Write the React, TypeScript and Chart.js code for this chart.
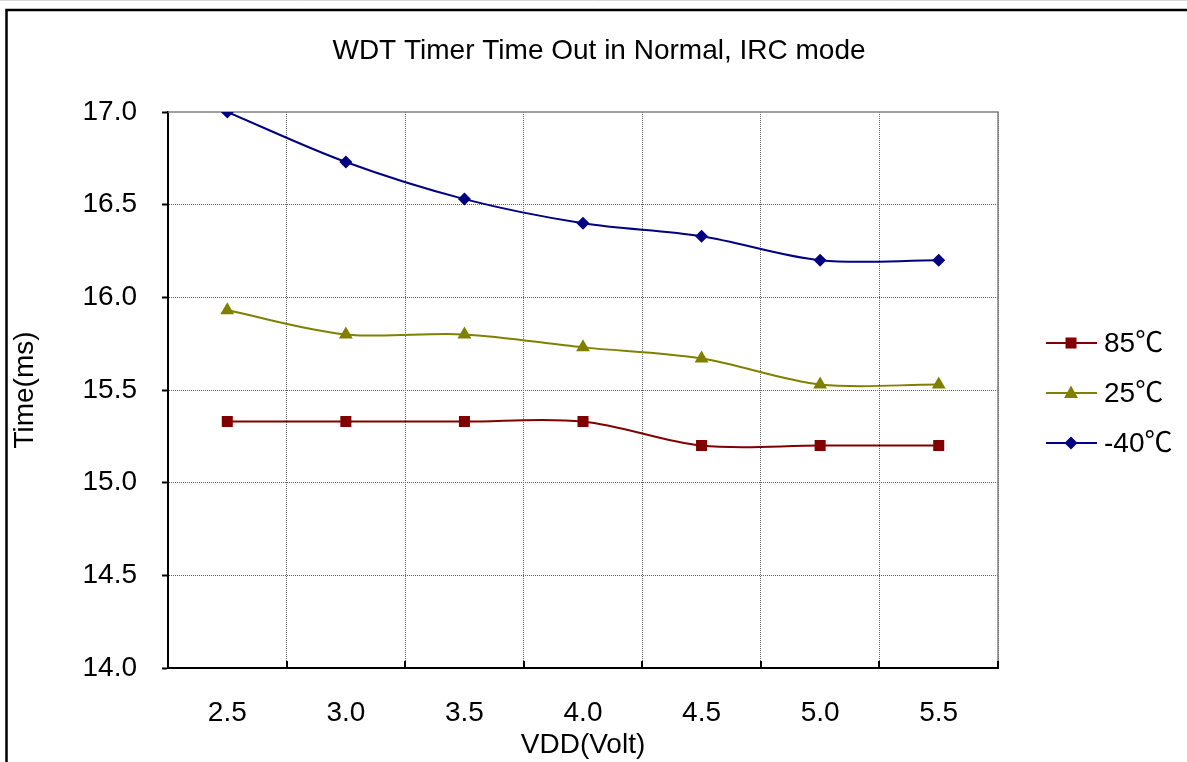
import React, { useEffect, useRef } from "react";
import { Chart, registerables } from "chart.js";

Chart.register(...registerables);

const categories = ["2.5", "3.0", "3.5", "4.0", "4.5", "5.0", "5.5"];
const time85 = [15.33, 15.33, 15.33, 15.33, 15.2, 15.2, 15.2];
const time25 = [15.93, 15.8, 15.8, 15.73, 15.67, 15.53, 15.53];
const timeM40 = [17.0, 16.73, 16.53, 16.4, 16.33, 16.2, 16.2];
const seriesNames = ["85℃", "25℃", "-40℃"];
const titleText = "WDT Timer Time Out in Normal, IRC mode";

const FONT = "'Liberation Sans', Arial, 'Noto Sans CJK SC', sans-serif";
const GRID = "#606060";

const decorPlugin = {
  id: "decor",
  beforeDraw(chart: any) {
    const ctx = chart.ctx;
    ctx.save();
    ctx.fillStyle = "#ffffff";
    ctx.fillRect(0, 0, chart.width, chart.height);
    ctx.strokeStyle = "#d8d8d8";
    ctx.lineWidth = 1;
    ctx.beginPath();
    ctx.moveTo(0, 0.5);
    ctx.lineTo(chart.width, 0.5);
    ctx.stroke();
    ctx.strokeStyle = "#000000";
    ctx.lineWidth = 2.5;
    ctx.beginPath();
    ctx.moveTo(6.5, chart.height + 5);
    ctx.lineTo(6.5, 10);
    ctx.lineTo(chart.width + 5, 10);
    ctx.stroke();
    ctx.restore();
  },
  beforeDatasetsDraw(chart: any) {
    const ctx = chart.ctx;
    const { left, right, top, bottom } = chart.chartArea;
    ctx.save();
    ctx.strokeStyle = "#808080";
    ctx.lineWidth = 1.5;
    ctx.beginPath();
    ctx.moveTo(left, top);
    ctx.lineTo(right, top);
    ctx.lineTo(right, bottom);
    ctx.stroke();
    const n = chart.data.labels.length;
    const xs = chart.scales.x;
    const step = xs.getPixelForValue(1) - xs.getPixelForValue(0);
    ctx.strokeStyle = "#000";
    ctx.lineWidth = 2;
    for (let i = 0; i <= n; i++) {
      const x = Math.round(xs.getPixelForValue(0) - step / 2 + i * step);
      ctx.beginPath();
      ctx.moveTo(x, bottom);
      ctx.lineTo(x, bottom - 7);
      ctx.stroke();
    }
    ctx.restore();
  },
  afterDatasetsDraw(chart: any) {
    const ctx = chart.ctx;
    ctx.save();
    ctx.fillStyle = "#000";
    ctx.font = `28px ${FONT}`;
    ctx.textAlign = "center";
    ctx.textBaseline = "middle";
    ctx.fillText(titleText, 599, 51);
    const ds = chart.data.datasets;
    const rows = [343, 393, 443];
    const cx = 1071;
    ds.forEach((d: any, i: number) => {
      const y = rows[i];
      ctx.strokeStyle = d.borderColor;
      ctx.lineWidth = 2;
      ctx.beginPath();
      ctx.moveTo(1046, y);
      ctx.lineTo(1097, y);
      ctx.stroke();
      ctx.fillStyle = d.backgroundColor;
      ctx.beginPath();
      if (d.pointStyle === "rect") {
        ctx.fillRect(cx - 5.5, y - 5.5, 11, 11);
      } else if (d.pointStyle === "triangle") {
        ctx.moveTo(cx, y - 7.5);
        ctx.lineTo(cx + 7, y + 5);
        ctx.lineTo(cx - 7, y + 5);
        ctx.closePath();
        ctx.fill();
      } else {
        ctx.moveTo(cx, y - 6.5);
        ctx.lineTo(cx + 6.5, y);
        ctx.lineTo(cx, y + 6.5);
        ctx.lineTo(cx - 6.5, y);
        ctx.closePath();
        ctx.fill();
      }
      ctx.fillStyle = "#000";
      ctx.font = `28px ${FONT}`;
      ctx.textAlign = "left";
      ctx.textBaseline = "middle";
      ctx.fillText(d.label, 1104, y + 1);
    });
    ctx.restore();
  },
};

export default function App() {
  const ref = useRef<HTMLCanvasElement>(null);
  useEffect(() => {
    document.body.style.margin = "0";
    const canvas = ref.current!;
    const chart = new Chart(canvas, {
      type: "line",
      data: {
        labels: categories,
        datasets: [
          {
            label: seriesNames[0],
            data: time85,
            borderColor: "#800000",
            backgroundColor: "#800000",
            pointStyle: "rect",
            pointRadius: 7.8,
            pointBorderWidth: 0,
            borderWidth: 2,
            tension: 0.33,
          },
          {
            label: seriesNames[1],
            data: time25,
            borderColor: "#808000",
            backgroundColor: "#808000",
            pointStyle: "triangle",
            pointRadius: 8,
            pointBorderWidth: 0,
            borderWidth: 2,
            tension: 0.33,
          },
          {
            label: seriesNames[2],
            data: timeM40,
            borderColor: "#000080",
            backgroundColor: "#000080",
            pointStyle: "rectRot",
            pointRadius: 6.5,
            pointBorderWidth: 0,
            borderWidth: 2,
            tension: 0.33,
          },
        ],
      },
      options: {
        responsive: false,
        animation: false,
        devicePixelRatio: 1,
        layout: { padding: { left: 0, top: 112, right: 189, bottom: 0 } },
        plugins: {
          legend: { display: false },
          title: { display: false },
          tooltip: { enabled: false },
        },
        scales: {
          x: {
            type: "category",
            offset: true,
            afterFit: (s: any) => {
              s.height = 94;
            },
            grid: {
              offset: true,
              color: GRID,
              lineWidth: 1,
              drawTicks: false,
            },
            border: { color: "#000", width: 2, dash: [1, 1] } as any,
            ticks: {
              color: "#000",
              font: { family: FONT, size: 28 },
              padding: 28,
              maxRotation: 0,
            },
            title: {
              display: true,
              text: "VDD(Volt)",
              color: "#000",
              font: { family: FONT, size: 28 },
              padding: { top: 0, bottom: 0 },
            },
          },
          y: {
            min: 14,
            max: 17,
            afterFit: (s: any) => {
              s.width = 168;
            },
            grid: {
              color: (c: any) =>
                c.tick && (c.tick.value === 14 || c.tick.value === 17)
                  ? "rgba(0,0,0,0)"
                  : GRID,
              lineWidth: 1,
              drawTicks: true,
              tickLength: 6,
              tickColor: "#000",
              tickWidth: 2,
              tickBorderDash: [],
            } as any,
            border: { color: "#000", width: 2, dash: [1, 1] } as any,
            ticks: {
              stepSize: 0.5,
              color: "#000",
              font: { family: FONT, size: 28 },
              padding: 25,
              callback: (v: any) => Number(v).toFixed(1),
            },
            title: {
              display: true,
              text: "Time(ms)",
              color: "#000",
              font: { family: FONT, size: 28 },
              padding: { top: 8, bottom: 0 },
            },
          },
        },
      },
      plugins: [decorPlugin],
    });
    return () => chart.destroy();
  }, []);
  return <canvas ref={ref} width={1187} height={762} style={{ display: "block" }} />;
}
